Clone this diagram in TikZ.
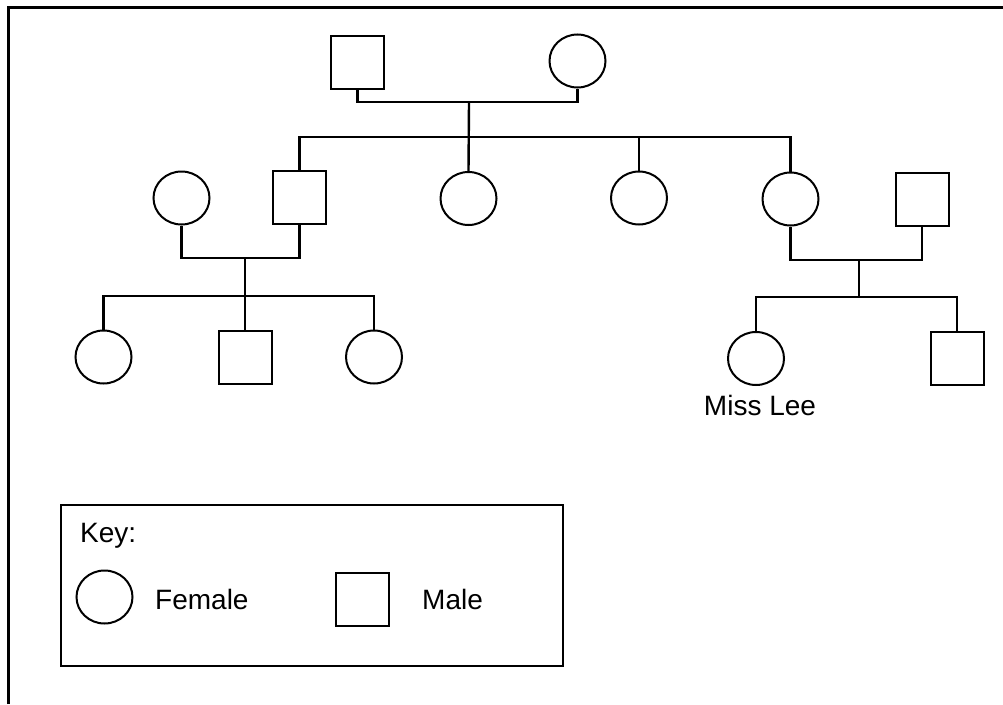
\documentclass[tikz,border=0pt]{standalone}
\usepackage{fontspec}
\setmainfont{Liberation Sans}
\usetikzlibrary{shapes.geometric}

\tikzset{
  female/.style={ellipse,draw,line width=2pt,minimum width=56pt,minimum height=53pt,inner sep=0pt},
  male/.style={rectangle,draw,line width=2pt,minimum width=53pt,minimum height=53pt,inner sep=0pt},
  tie/.style={line width=2.4pt},
  txt/.style={font=\fontsize{28}{34}\selectfont,inner sep=0pt}
}

\begin{document}
\begin{tikzpicture}[x=1pt,y=-1pt]
	\useasboundingbox (0,0) rectangle (1003,704);
	\draw [line width=3pt] (8,704) |- (1003,7);

	% first generation
	\node [male] (gf) at (357.5,62.5) {};
	\node [female] (gm) at (577.5,61) {};

	% second generation
	\node [female] (wife) at (181.5,198) {};
	\node [male] (son) at (299.5,197.5) {};
	\node [female] (d1) at (468.5,198.5) {};
	\node [female] (d2) at (639,198) {};
	\node [female] (d3) at (790.5,199) {};
	\node [male] (hus) at (922,199) {};

	% third generation
	\node [female] (k1) at (103.5,357) {};
	\node [male] (k2) at (245,357) {};
	\node [female] (k3) at (374,357) {};
	\node [female] (lee) at (756,358.5) {};
	\node [male] (bro) at (957,358.5) {};
	\node [txt,anchor=base] (leename) at (760,415) {Miss Lee};

	% marriage and sibship lines
	\coordinate (m0) at (469,102);
	\coordinate (s0) at (469,137);
	\draw [tie] (gf.south) |- (m0) -| (gm.south);
	\draw [tie] (m0) -- (d1.north);
	\draw [tie] (son.north) |- (s0) -| (d3.north);
	\draw [tie] (d2.north) -- (d2.north |- s0);

	\coordinate (m1) at (245,258);
	\coordinate (s1) at (245,296);
	\draw [tie] (wife.south) |- (m1) -| (son.south);
	\draw [tie] (m1) -- (k2.north);
	\draw [tie] (k1.north) |- (s1) -| (k3.north);

	\coordinate (m2) at (859,260);
	\coordinate (s2) at (859,297);
	\draw [tie] (d3.south) |- (m2) -| (hus.south);
	\draw [tie] (m2) -- (s2);
	\draw [tie] (lee.north) |- (s2) -| (bro.north);

	% key
	\node [draw,line width=2pt,minimum width=502pt,minimum height=161pt,inner sep=0pt] (keybox) at (312,585.5) {};
	\node [txt,anchor=base west] (keytitle) at (80,542) {Key:};
	\node [female] (keyf) at (104.5,597) {};
	\node [txt,anchor=base west] (keyftext) at (155,609) {Female};
	\node [male] (keym) at (362.5,599) {};
	\node [txt,anchor=base west] (keymtext) at (422,609) {Male};
\end{tikzpicture}
\end{document}
